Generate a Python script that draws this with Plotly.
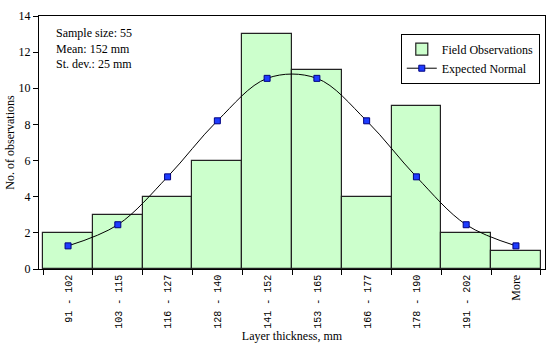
import plotly.graph_objects as go

categories = ["91 - 102", "103 - 115", "116 - 127", "128 - 140", "141 - 152",
              "153 - 165", "166 - 177", "178 - 190", "191 - 202", "More"]
observed = [2, 3, 4, 6, 13, 11, 4, 9, 2, 1]
expected = [1.28, 2.45, 5.1, 8.2, 10.55, 10.55, 8.2, 5.1, 2.45, 1.28]
y_ticks = [0, 2, 4, 6, 8, 10, 12, 14]

FONT = "Liberation Serif"

tick_text = [c if c == "More" else
             '<span style="font-family:Liberation Mono;font-size:10px">' + c + "</span>"
             for c in categories]

fig = go.Figure()
fig.add_trace(go.Bar(
    x=categories, y=observed, name="Field Observations",
    marker=dict(color="#CCFFCC", line=dict(color="#222222", width=1.2)),
))
fig.add_trace(go.Scatter(
    x=categories, y=expected, name="Expected Normal",
    mode="lines+markers",
    line=dict(color="#000000", width=1, shape="spline", smoothing=1.0),
    marker=dict(symbol="square", size=6, color="#1E3CFF",
                line=dict(color="#000080", width=1)),
))

fig.update_layout(
    width=550, height=354,
    margin=dict(l=39, r=5, t=16, b=85),
    paper_bgcolor="white", plot_bgcolor="white",
    font=dict(family=FONT, size=12, color="black"),
    bargap=0,
    showlegend=True,
    legend=dict(x=0.715, y=0.93, xanchor="left", yanchor="top",
                bordercolor="black", borderwidth=1, bgcolor="white",
                font=dict(family=FONT, size=12), tracegroupgap=2,
                itemwidth=30),
    xaxis=dict(
        type="category", tickangle=-90, showline=True, linecolor="black",
        linewidth=1, mirror=True, ticks="outside", ticklen=5,
        tickson="boundaries", tickcolor="black",
        tickvals=categories, ticktext=tick_text,
        title=dict(text="Layer thickness, mm", font=dict(family=FONT, size=12), standoff=3),
        showgrid=False,
    ),
    yaxis=dict(
        range=[0, 14], tickvals=y_ticks, showline=True, linecolor="black",
        linewidth=1, mirror=True, ticks="outside", ticklen=5, tickcolor="black",
        showgrid=False, zeroline=False,
        title=dict(text="No. of observations", font=dict(family=FONT, size=12), standoff=1),
    ),
    annotations=[
        dict(text="Sample size: 55<br>Mean: 152 mm<br>St. dev.: 25 mm",
             xref="paper", yref="paper", x=0.03, y=0.97, xanchor="left",
             yanchor="top", showarrow=False, align="left",
             font=dict(family=FONT, size=12)),
    ],
)

fig.write_html("out.html")
